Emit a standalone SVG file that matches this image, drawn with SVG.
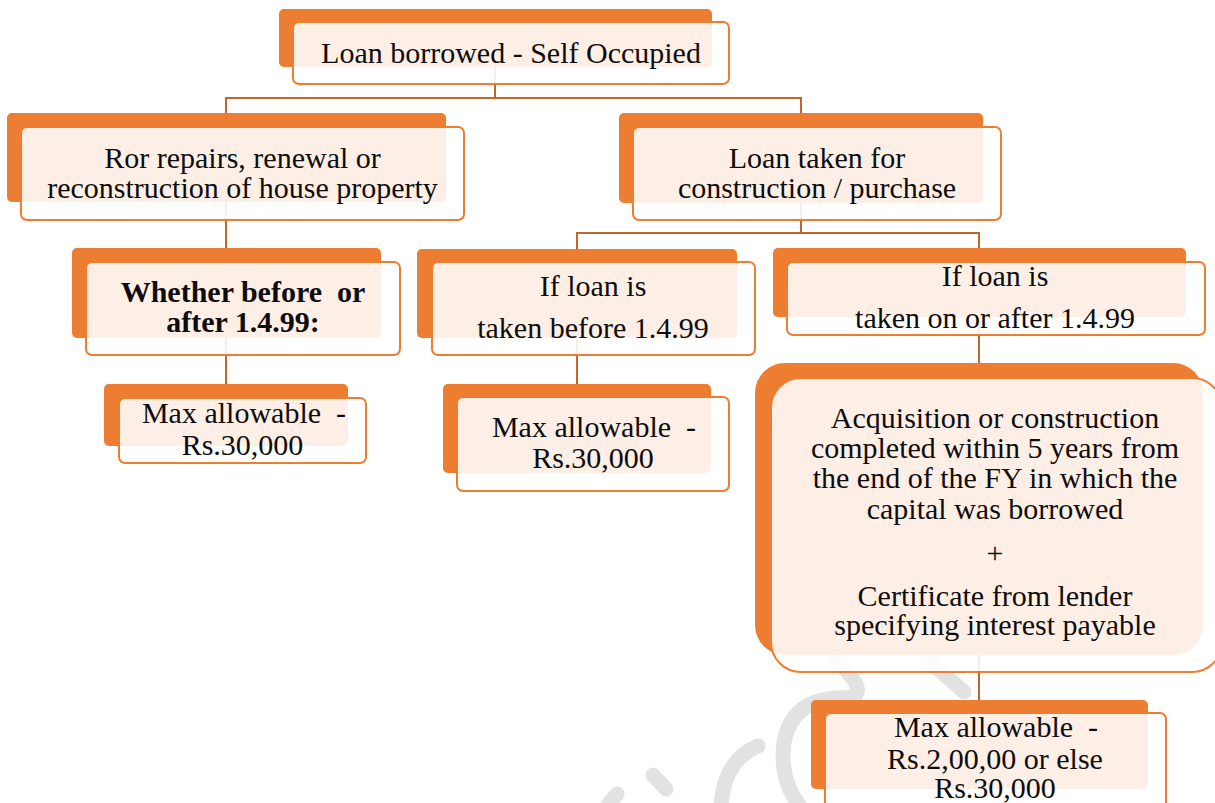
<svg xmlns="http://www.w3.org/2000/svg" width="1215" height="803" viewBox="0 0 1215 803">
  <style>
    .back { fill: #ED7D31; }
    .front { fill: #FFFFFF; fill-opacity: 0.88; stroke: #ED7D31; stroke-width: 2; }
    .lbl { font-family: "Liberation Serif", "Times New Roman", serif; font-size: 30px; fill: #0D0D0D; text-anchor: middle; white-space: pre; }
    .bold { font-weight: bold; }
    .conn { stroke: #C3662C; stroke-width: 2; fill: none; }
    .mark { stroke: #E2E2E2; stroke-width: 15; fill: none; stroke-linecap: round; }
  </style>

  <rect width="1215" height="803" fill="#FFFFFF"/>

  <!-- faint background watermark strokes -->
  <g id="watermark">
    <path class="mark" d="M 836 660 Q 878 700 838 698 Q 792 700 784 742 Q 779 780 800 806"/>
    <path class="mark" d="M 928 660 L 964 692"/>
    <path class="mark" d="M 758 746 Q 724 760 721 806"/>
    <path class="mark" d="M 653 775 L 666 789"/>
    <path class="mark" d="M 617 794 L 607 806"/>
  </g>

  <!-- connectors -->
  <g id="connectors">
    <path class="conn" d="M 495 67 V 98"/>
    <path class="conn" d="M 226 113 V 98 H 801 V 113"/>
    <path class="conn" d="M 226 202 V 248"/>
    <path class="conn" d="M 226 338 V 384"/>
    <path class="conn" d="M 801 203 V 233"/>
    <path class="conn" d="M 577 249 V 233 H 980"/>
    <path class="conn" d="M 979 233 V 248"/>
    <path class="conn" d="M 577 338 V 384"/>
    <path class="conn" d="M 979 317 V 363"/>
    <path class="conn" d="M 979 655 V 700"/>
  </g>

  <g id="node-self-occupied">
    <rect class="back" x="279" y="9" width="433" height="58" rx="5"/>
    <rect class="front" x="293" y="22" width="436" height="62" rx="6"/>
    <text class="lbl" x="511" y="63">Loan borrowed - Self Occupied</text>
  </g>

  <g id="node-repairs">
    <rect class="back" x="7" y="113" width="439" height="89" rx="5"/>
    <rect class="front" x="21" y="127" width="443" height="93" rx="6"/>
    <text class="lbl" x="242.5" y="168">Ror repairs, renewal or</text>
    <text class="lbl" x="242.5" y="198">reconstruction of house property</text>
  </g>

  <g id="node-construction">
    <rect class="back" x="619" y="113" width="364" height="90" rx="5"/>
    <rect class="front" x="633" y="127" width="368" height="93" rx="6"/>
    <text class="lbl" x="817" y="168">Loan taken for</text>
    <text class="lbl" x="817" y="198">construction / purchase</text>
  </g>

  <g id="node-whether">
    <rect class="back" x="72" y="248" width="309" height="90" rx="5"/>
    <rect class="front" x="86" y="262" width="314" height="93" rx="6"/>
    <text class="lbl bold" x="243" y="302">Whether before  or</text>
    <text class="lbl bold" x="243" y="332">after 1.4.99:</text>
  </g>

  <g id="node-max-repairs">
    <rect class="back" x="104" y="384" width="244" height="62" rx="5"/>
    <rect class="front" x="119" y="398" width="247" height="65" rx="6"/>
    <text class="lbl" x="244" y="423">Max allowable  -</text>
    <text class="lbl" x="242.5" y="455">Rs.30,000</text>
  </g>

  <g id="node-before">
    <rect class="back" x="417" y="249" width="320" height="89" rx="5"/>
    <rect class="front" x="432" y="262" width="323" height="93" rx="6"/>
    <text class="lbl" x="593" y="296">If loan is</text>
    <text class="lbl" x="593" y="338">taken before 1.4.99</text>
  </g>

  <g id="node-max-before">
    <rect class="back" x="443" y="384" width="268" height="89" rx="5"/>
    <rect class="front" x="457" y="397" width="272" height="94" rx="6"/>
    <text class="lbl" x="594" y="437">Max allowable  -</text>
    <text class="lbl" x="593" y="468">Rs.30,000</text>
  </g>

  <g id="node-after">
    <rect class="back" x="773" y="248" width="413" height="69" rx="5"/>
    <rect class="front" x="787" y="262" width="418" height="73" rx="6"/>
    <text class="lbl" x="995" y="286">If loan is</text>
    <text class="lbl" x="995" y="328">taken on or after 1.4.99</text>
  </g>

  <g id="node-conditions">
    <rect class="back" x="755" y="363" width="448" height="292" rx="30"/>
    <rect class="front" x="771" y="378" width="451" height="294" rx="30"/>
    <text class="lbl" x="995" y="428">Acquisition or construction</text>
    <text class="lbl" x="995" y="458">completed within 5 years from</text>
    <text class="lbl" x="995" y="488">the end of the FY in which the</text>
    <text class="lbl" x="995" y="519">capital was borrowed</text>
    <text class="lbl" x="995" y="563">+</text>
    <text class="lbl" x="995" y="606">Certificate from lender</text>
    <text class="lbl" x="995" y="635">specifying interest payable</text>
  </g>

  <g id="node-max-after">
    <rect class="back" x="811" y="700" width="337" height="89" rx="5"/>
    <rect class="front" x="825" y="713" width="341" height="98" rx="6"/>
    <text class="lbl" x="996" y="737">Max allowable  -</text>
    <text class="lbl" x="995" y="769">Rs.2,00,00 or else</text>
    <text class="lbl" x="995" y="798">Rs.30,000</text>
  </g>
</svg>
